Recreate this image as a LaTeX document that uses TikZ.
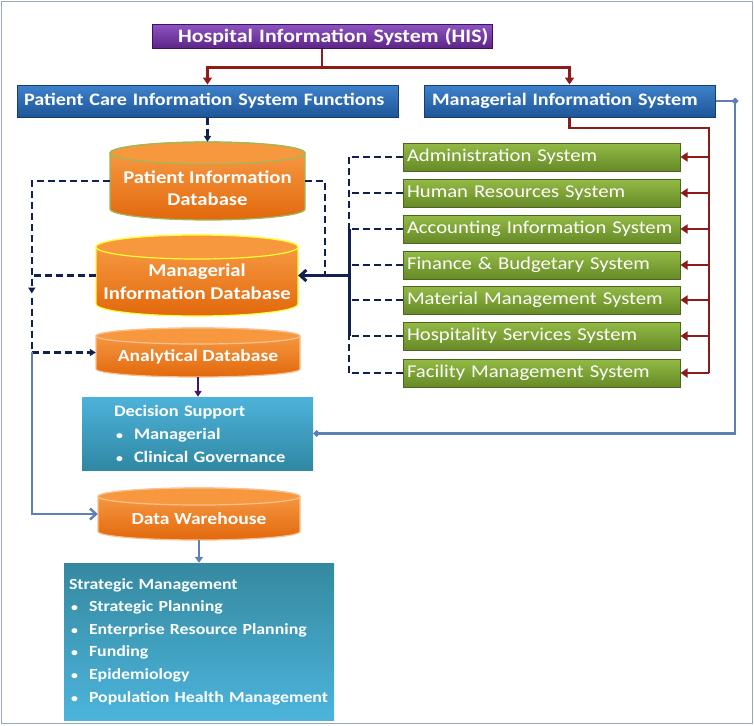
\documentclass[tikz,border=0pt]{standalone}
\usepackage{fontspec}
\setmainfont{Carlito}[FakeStretch=1.15]
\usetikzlibrary{arrows.meta,calc}

\definecolor{hisA}{HTML}{8C52BF}
\definecolor{hisB}{HTML}{5C2386}
\definecolor{hisD}{HTML}{3B1260}
\definecolor{blueA}{HTML}{3E82CC}
\definecolor{blueB}{HTML}{1E5597}
\definecolor{blueD}{HTML}{163F70}
\definecolor{grnA}{HTML}{93BA45}
\definecolor{grnB}{HTML}{678A27}
\definecolor{grnD}{HTML}{4B6420}
\definecolor{orA}{HTML}{F9A04A}
\definecolor{orB}{HTML}{E2680C}
\definecolor{orTop}{HTML}{F7983E}
\definecolor{pdbBorder}{HTML}{9BBB59}
\definecolor{mdbBorder}{HTML}{FFFF33}
\definecolor{lightOr}{HTML}{FAC090}
\definecolor{redL}{HTML}{8E1A1A}
\definecolor{navy}{HTML}{10204F}
\definecolor{steel}{HTML}{5D7FB6}
\definecolor{dsA}{HTML}{4DB2DA}
\definecolor{dsB}{HTML}{2F88A3}
\definecolor{smA}{HTML}{35899F}
\definecolor{smB}{HTML}{4CB4DC}
\definecolor{framec}{HTML}{9AA8B8}
\definecolor{dlpurple}{HTML}{3E1A66}

% cylinder outline: cx, top, bottom, rx, ry, border colour
\newcommand\dbshape[6]{%
  \path[top color=orA, bottom color=orB, draw=#6, line width=1.2pt]
    ({#1-#4},{#2+#5}) -- ({#1-#4},{#3-#5})
    arc[start angle=180, end angle=360, x radius=#4pt, y radius=#5pt]
    -- ({#1+#4},{#2+#5})
    arc[start angle=0, end angle=180, x radius=#4pt, y radius=#5pt] -- cycle;
  \path[fill=orTop, draw=#6, line width=1.2pt] (#1,{#2+#5}) ellipse[x radius=#4pt, y radius=#5pt];
}
\newcommand\bul{\makebox[20pt][l]{\hspace{2pt}{\fontsize{12}{12}\selectfont\textbullet}}}

\tikzset{
  hisbox/.style={draw=hisD, line width=1pt, top color=hisA, bottom color=hisB, minimum width=340pt, minimum height=24pt, inner sep=0pt, text width=288pt, align=left, text=white, font=\bfseries\fontsize{19}{20}\selectfont},
  bluebox/.style={draw=blueD, line width=1pt, top color=blueA, bottom color=blueB, minimum height=32pt, inner sep=0pt, align=left, text=white, font=\bfseries\fontsize{17.5}{20}\selectfont},
  grnbox/.style={draw=grnD, line width=1pt, top color=grnA, bottom color=grnB, minimum width=277pt, minimum height=28pt, inner sep=0pt, text width=269pt, align=left, text=white, font=\fontsize{18}{20}\selectfont},
  dbbox/.style={inner sep=0pt},
  dbtext/.style={text=white, align=center, font=\bfseries\fontsize{17}{22}\selectfont, inner sep=0pt},
  dsbox/.style={top color=dsA, bottom color=dsB, minimum width=231pt, minimum height=73pt, inner sep=0pt, text width=167pt, align=left, text=white, font=\bfseries\fontsize{16}{23}\selectfont},
  smbox/.style={top color=smA, bottom color=smB, minimum width=270pt, minimum height=157pt, inner sep=0pt, text width=260pt, align=left, text=white, font=\bfseries\fontsize{15.5}{22.6}\selectfont},
  redline/.style={draw=redL, line width=2.6pt},
  redarrow/.style={redline, -{Triangle[length=7pt,width=9pt]}},
  navydash/.style={draw=navy, line width=2.4pt, dash pattern=on 7pt off 4pt},
  navyarrow/.style={navydash, -{Triangle[length=6pt,width=7pt]}},
  steelline/.style={draw=steel, line width=2.4pt},
}

\begin{document}
\begin{tikzpicture}[x=1pt,y=-1pt]
\useasboundingbox (0,0) rectangle (754,725);
\draw[framec, line width=1.5pt] (1.5,1.5) rectangle (752.5,723.5);

% cylinders
\dbshape{207.5}{142}{220}{97.5}{11}{pdbBorder}
\dbshape{197}{235}{316}{101}{12}{mdbBorder}
\dbshape{198}{328}{377}{102}{8}{lightOr}
\dbshape{199}{488}{540}{101}{8.5}{lightOr}

% top boxes
\node[hisbox] (his) at (322,37) {\mbox{Hospital Information System (HIS)}};
\node[bluebox, minimum width=381pt, text width=367pt] (pcis) at (207.5,101) {\mbox{Patient Care Information System Functions}};
\node[bluebox, minimum width=291pt, text width=275pt] (mis) at (569.5,101) {\mbox{Managerial Information System}};

% databases
\node[dbbox, minimum width=195pt, minimum height=78pt,
  label={[dbtext, name=pdbt, yshift=-7pt, font=\bfseries\fontsize{18}{22}\selectfont]center:{Patient Information\\Database}}] (pdb) at (207.5,181) {};
\node[dbbox, minimum width=202pt, minimum height=81pt,
  label={[dbtext, name=mdbt, yshift=-6pt, font=\bfseries\fontsize{18}{23}\selectfont]center:{Managerial\\Information Database}}] (mdb) at (197,275.5) {};
\node[dbbox, minimum width=204pt, minimum height=49pt,
  label={[dbtext, name=adbt, yshift=-4.5pt]center:{Analytical Database}}] (adb) at (198,352.5) {};
\node[dbbox, minimum width=202pt, minimum height=52pt,
  label={[dbtext, name=dwt, yshift=-5pt]center:{Data Warehouse}}] (dw) at (199,514) {};

% decision support & strategic management
\node[dsbox] (ds) at (197.5,433.5) {\mbox{Decision Support}\\\mbox{\bul Managerial}\\\mbox{\bul Clinical Governance}};
\node[smbox] (sm) at (199,641.5) {\mbox{Strategic Management}\\\mbox{\bul Strategic Planning}\\\mbox{\bul Enterprise Resource Planning}\\\mbox{\bul Funding}\\\mbox{\bul Epidemiology}\\\mbox{\bul Population Health Management}};

% green subsystem boxes
\node[grnbox] (g1) at (541.5,157) {Administration System};
\node[grnbox] (g2) at (541.5,193) {Human Resources System};
\node[grnbox] (g3) at (541.5,229) {Accounting Information System};
\node[grnbox] (g4) at (541.5,265) {Finance \& Budgetary System};
\node[grnbox] (g5) at (541.5,300) {Material Management System};
\node[grnbox] (g6) at (541.5,336) {Hospitality Services System};
\node[grnbox] (g7) at (541.5,373) {Facility Management System};

% red connectors
\draw[redarrow] (his.south) -- ++(0,18) -| (pcis.north);
\draw[redarrow] (his.south) -- ++(0,18) -| (mis.north);
\coordinate (rtr) at (709,128);
\draw[redline] (mis.south) |- (rtr) -- (rtr |- g7.east);
\foreach \n in {1,...,7}{
  \draw[redarrow] (g\n.east -| rtr) -- (g\n.east);
}

% navy connectors from subsystems
\coordinate (ntr) at (349,157);
\foreach \n in {1,...,7}{
  \draw[navydash] (g\n.west) -- (g\n.west -| ntr);
}
\draw[navydash] (ntr |- g1.west) -- (ntr |- g7.west);
\draw[draw=navy, line width=3pt] (ntr |- g3.west) -- (ntr |- g6.west);
\draw[draw=navy, line width=3pt, -{Straight Barb[length=6pt,width=11pt]}] (mdb.east -| ntr) -- (mdb.east);

% patient db connectors
\draw[navyarrow] (pcis.south) -- (pcis.south |- pdb.north);
\draw[navydash] (pdb.east) -- ++(20,0) coordinate (pr) -- (pr |- mdb.east);
\draw[navyarrow] (pdb.west) -- ++(-78,0) coordinate (lt) -- ($(lt |- mdb.west)+(0,18)$);
\draw[navydash] (mdb.west) -- (mdb.west -| lt);
\draw[navyarrow] ($(lt |- mdb.west)+(0,22)$) |- (adb.west);
\draw[steelline, -{Straight Barb[length=6pt,width=11pt]}] (lt |- adb.west) |- (dw.west);

% vertical flows
\draw[draw=dlpurple, line width=2.4pt, -{Triangle[length=6pt,width=7pt]}] (adb.south) -- (adb.south |- ds.north);
\draw[steelline, -{Triangle[length=6pt,width=8pt]}] (dw.south) -- (dw.south |- sm.north);

% MIS to decision support
\coordinate (sx) at (735,101);
\draw[steelline, {Diamond[length=7pt,width=7pt]}-] (ds.east) -- (ds.east -| sx) -- (sx |- mis.east) -- (mis.east);
\fill[steel] (sx) +(-3.5,0) -- +(0,-3.5) -- +(3.5,0) -- +(0,3.5) -- cycle;
\end{tikzpicture}
\end{document}
